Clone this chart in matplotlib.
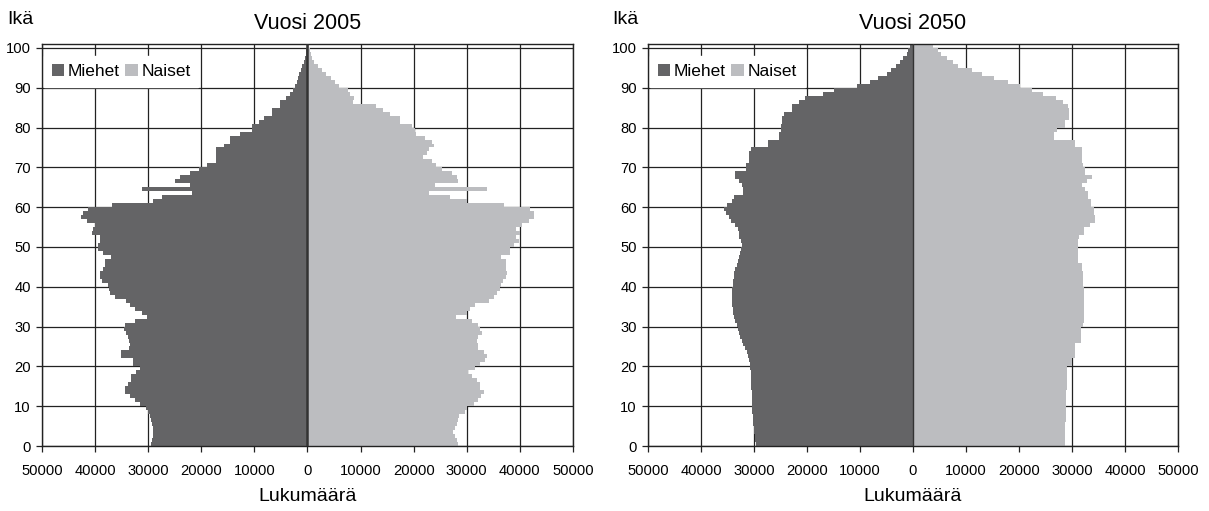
import numpy as np
import matplotlib.pyplot as plt
from matplotlib.ticker import FuncFormatter

plt.rcParams['font.family'] = ['Liberation Sans', 'DejaVu Sans']

ika = np.arange(0, 101)

# Vuosi 2005, tuhansina
miehet_2005 = [29.5, 29.3, 29.0, 29.0, 29.1, 29.3, 29.5, 29.7, 30.0, 30.4,
               31.5, 32.5, 33.4, 34.3, 34.4, 33.8, 33.2, 33.2, 32.2, 31.5,
               32.8, 32.9, 35.1, 35.1, 33.6, 33.4, 33.6, 33.8, 34.1, 34.5,
               34.4, 32.5, 30.3, 31.2, 32.5, 33.4, 34.1, 36.3, 37.1, 37.4,
               37.5, 38.6, 39.0, 39.1, 38.5, 38.2, 38.2, 37.0, 38.5, 39.4,
               39.4, 39.1, 39.1, 40.6, 40.3, 40.0, 41.6, 42.6, 42.3, 41.3,
               36.9, 29.0, 27.4, 21.8, 31.2, 22.1, 25.0, 24.0, 22.1, 20.5,
               18.9, 17.2, 17.2, 17.2, 17.2, 15.7, 14.6, 14.6, 12.7, 10.5,
               10.5, 9.2, 8.2, 6.7, 6.7, 5.2, 5.2, 4.0, 3.3, 2.8,
               2.3, 2.0, 1.7, 1.5, 1.2, 1.0, 0.7, 0.5, 0.3, 0.2, 0.1]
naiset_2005 = [28.3, 28.1, 27.8, 27.5, 27.7, 28.1, 28.4, 28.5, 29.6, 30.0,
               31.3, 32.2, 32.7, 33.2, 32.5, 32.5, 31.9, 31.0, 30.3, 31.5,
               32.5, 33.5, 33.8, 33.2, 32.2, 32.1, 32.0, 32.2, 32.8, 32.5,
               32.1, 31.0, 27.9, 30.0, 30.6, 31.5, 34.1, 35.1, 35.7, 36.3,
               36.5, 36.8, 37.3, 37.6, 37.4, 37.4, 37.3, 36.5, 38.2, 38.2,
               38.9, 39.8, 39.2, 40.1, 39.2, 40.4, 41.7, 42.6, 42.6, 42.0,
               37.1, 30.1, 26.8, 22.9, 33.8, 24.0, 28.3, 28.1, 27.2, 25.3,
               24.3, 23.4, 21.7, 22.6, 22.9, 23.9, 23.4, 22.2, 20.5, 20.2,
               19.6, 17.4, 17.4, 15.5, 14.2, 13.0, 8.6, 8.8, 8.0, 7.6,
               6.0, 5.2, 4.4, 3.5, 2.8, 1.9, 1.3, 0.8, 0.6, 0.45, 0.3]

# Vuosi 2050, tuhansina
miehet_2050 = [29.7, 29.8, 29.9, 30.0, 30.0, 30.1, 30.2, 30.2, 30.3, 30.3,
               30.3, 30.4, 30.4, 30.4, 30.5, 30.5, 30.5, 30.6, 30.6, 30.7,
               30.8, 31.0, 31.2, 31.4, 31.7, 32.0, 32.3, 32.6, 32.9, 33.1,
               33.3, 33.5, 33.7, 33.9, 34.0, 34.1, 34.2, 34.2, 34.2, 34.1,
               34.0, 34.0, 33.8, 33.7, 33.6, 33.3, 33.1, 32.9, 32.6, 32.4,
               32.2, 32.4, 32.8, 32.8, 33.0, 33.6, 34.4, 34.8, 35.3, 35.6,
               35.1, 34.2, 33.8, 32.1, 32.1, 32.3, 32.8, 33.5, 33.5, 31.6,
               31.6, 31.0, 31.0, 31.0, 30.6, 27.3, 27.3, 25.3, 25.3, 24.9,
               24.9, 24.7, 24.7, 24.3, 22.9, 22.9, 21.6, 20.4, 16.9, 14.9,
               10.6, 8.2, 6.6, 4.9, 4.2, 3.2, 2.5, 1.9, 1.2, 0.9, 0.5]
naiset_2050 = [28.6, 28.6, 28.6, 28.7, 28.7, 28.7, 28.8, 28.8, 28.8, 28.8,
               28.9, 28.9, 28.9, 28.9, 29.0, 29.0, 29.0, 29.0, 29.1, 29.1,
               29.9, 29.9, 30.6, 30.6, 30.6, 30.6, 31.6, 31.6, 31.6, 31.6,
               32.0, 32.2, 32.2, 32.2, 32.2, 32.2, 32.2, 32.2, 32.2, 32.2,
               32.0, 32.0, 32.0, 32.0, 31.8, 31.8, 31.1, 31.1, 31.1, 31.1,
               31.1, 31.1, 31.4, 32.2, 32.2, 33.4, 34.4, 34.4, 34.2, 34.2,
               33.6, 33.6, 33.1, 33.1, 32.4, 31.9, 32.9, 33.8, 32.4, 32.4,
               32.1, 31.9, 31.9, 31.9, 31.9, 30.6, 30.6, 26.6, 26.6, 27.2,
               28.6, 28.6, 29.5, 29.5, 29.5, 29.2, 28.2, 26.9, 24.5, 22.5,
               20.2, 17.9, 15.2, 13.0, 11.2, 8.4, 7.5, 6.5, 5.2, 4.8, 3.8]

otsikot = ['Vuosi 2005', 'Vuosi 2050']
x_ticks = np.arange(-50000, 50001, 10000)

fig = plt.figure(figsize=(12.09, 5.11), dpi=100)
ax1 = fig.add_axes([0.0347, 0.1272, 0.4392, 0.7867])
ax2 = fig.add_axes([0.5360, 0.1272, 0.4384, 0.7867])

data = [(miehet_2005, naiset_2005), (miehet_2050, naiset_2050)]
for ax, (m, n), otsikko, keskiviiva in zip([ax1, ax2], data, otsikot, [1.8, 1.0]):
  m = np.array(m) * 1000
  n = np.array(n) * 1000
  ax.barh(ika, -m, height=1, align='edge', color='#646466', linewidth=0, label='Miehet', zorder=2)
  ax.barh(ika, n, height=1, align='edge', color='#bcbdc0', linewidth=0, label='Naiset', zorder=2)
  ax.axvline(0, color='#333333', linewidth=keskiviiva, zorder=3)
  ax.set_xlim(-50000, 50000)
  ax.set_ylim(0, 101)
  ax.set_xticks(x_ticks)
  ax.xaxis.set_major_formatter(FuncFormatter(lambda v, p: '%d' % abs(v)))
  ax.set_yticks(np.arange(0, 101, 10))
  ax.grid(True, color='#222222', linewidth=0.9, zorder=1)
  ax.set_axisbelow(True)
  for s in ax.spines.values():
    s.set_color('#222222')
    s.set_linewidth(1.0)
  ax.tick_params(axis='both', direction='out', length=4, width=0.9, labelsize=10.6, color='#222222')
  ax.tick_params(axis='x', pad=9)
  ax.tick_params(axis='y', pad=4)
  ax.set_title(otsikko, fontsize=15.5, pad=11)
  ax.set_xlabel('Lukumäärä', fontsize=14, labelpad=7)
  leg = ax.legend(loc='center left', bbox_to_anchor=(0.004, 0.932), ncol=2, fontsize=12.5,
                  frameon=True, fancybox=False, edgecolor='white', framealpha=1,
                  handlelength=0.72, handleheight=0.72, handletextpad=0.21,
                  columnspacing=0.3, borderpad=0.45, borderaxespad=0)
  leg.set_zorder(5)

fig.text(0.006, 0.962, 'Ikä', fontsize=14, va='center')
fig.text(0.506, 0.962, 'Ikä', fontsize=14, va='center')

plt.savefig('out.png', dpi=100)
